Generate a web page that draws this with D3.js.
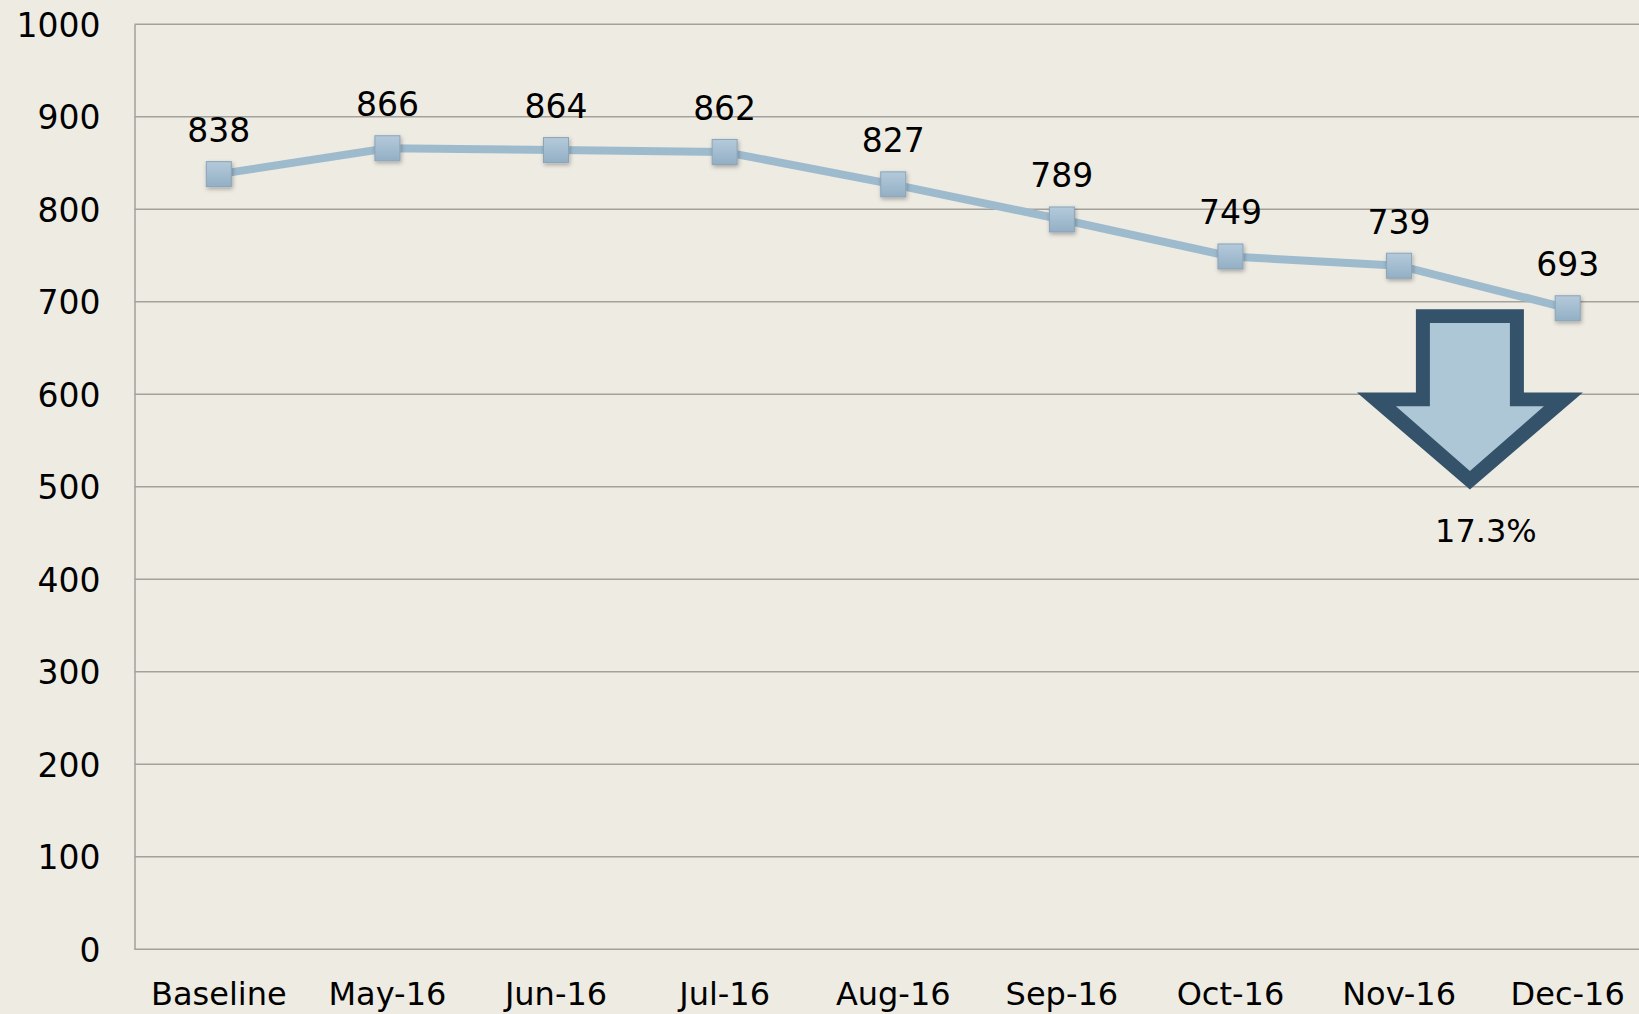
<!DOCTYPE html>
<html lang="en">
<head>
    <meta charset="UTF-8">
    <title>Line chart - D3.JS</title>
    <style>
        body { margin: 0; background: #eeebe3; }
        svg { display: block; }
        text { font-family: "DejaVu Sans", sans-serif; fill: #000; }
    </style>
    <script src="https://d3js.org/d3.v7.min.js"></script>
</head>
<body>
    <div class="graph"></div>
</body>
<script>
    const categories = ['Baseline', 'May-16', 'Jun-16', 'Jul-16', 'Aug-16', 'Sep-16', 'Oct-16', 'Nov-16', 'Dec-16']
    const values = [838, 866, 864, 862, 827, 789, 749, 739, 693]
    const yTicks = [0, 100, 200, 300, 400, 500, 600, 700, 800, 900, 1000]
    const dropLabel = '17.3%'

    const width = 1639, height = 1014
    const margin = { left: 134.5, right: -13, top: 24.3, bottom: 64.7 }

    const svg = d3.select('.graph').append('svg')
        .attr('width', width)
        .attr('height', height)

    svg.append('rect').attr('width', width).attr('height', height).attr('fill', '#eeebe3')

    const defs = svg.append('defs')
    const grad = defs.append('linearGradient').attr('id', 'mk').attr('x1', 0).attr('y1', 0).attr('x2', 0).attr('y2', 1)
    grad.append('stop').attr('offset', '0%').attr('stop-color', '#b4cadb')
    grad.append('stop').attr('offset', '100%').attr('stop-color', '#93afc4')
    const shadow = defs.append('filter').attr('id', 'sh').attr('x', '-50%').attr('y', '-50%').attr('width', '200%').attr('height', '200%')
    shadow.append('feDropShadow').attr('dx', 1).attr('dy', 2).attr('stdDeviation', 2)
        .attr('flood-color', '#000').attr('flood-opacity', 0.3)

    const x = d3.scaleBand()
        .domain(categories)
        .range([margin.left, width - margin.right])
    const y = d3.scaleLinear()
        .domain([0, 1000])
        .range([height - margin.bottom, margin.top])

    // grid lines
    svg.append('g')
        .selectAll('line')
        .data(yTicks)
        .join('line')
        .attr('x1', margin.left).attr('x2', width - margin.right)
        .attr('y1', d => y(d)).attr('y2', d => y(d))
        .attr('stroke', '#a3a19c').attr('stroke-width', 1.5)

    // y axis
    const yAxis = svg.append('g')
        .attr('transform', `translate(${margin.left}, 0)`)
        .call(d3.axisLeft(y).tickValues(yTicks).tickFormat(d3.format('d')).tickSize(0).tickPadding(34))
    yAxis.select('.domain').attr('stroke', '#a3a19c').attr('stroke-width', 1.5)
    yAxis.selectAll('text').style('font-size', '33px').attr('dy', '0.36em')

    // x axis
    const xAxis = svg.append('g')
        .attr('transform', `translate(0, ${y(0)})`)
        .call(d3.axisBottom(x).tickSize(0).tickPadding(33))
    xAxis.select('.domain').remove()
    xAxis.selectAll('text').style('font-size', '32px').attr('dy', '0.71em')

    const cx = (d, i) => x(categories[i]) + x.bandwidth() / 2

    // series line
    svg.append('path')
        .datum(values)
        .attr('fill', 'none')
        .attr('stroke', '#9ebbce')
        .attr('stroke-width', 8)
        .attr('d', d3.line().x(cx).y(d => y(d)))

    // markers
    const ms = 25
    svg.append('g')
        .selectAll('rect')
        .data(values)
        .join('rect')
        .attr('x', (d, i) => cx(d, i) - ms / 2)
        .attr('y', d => y(d) - ms / 2)
        .attr('width', ms).attr('height', ms)
        .attr('fill', 'url(#mk)')
        .attr('stroke', '#8aa4b8').attr('stroke-width', 1)
        .attr('filter', 'url(#sh)')

    // data labels
    svg.append('g')
        .selectAll('text')
        .data(values)
        .join('text')
        .attr('x', cx)
        .attr('y', d => y(d) - 32)
        .attr('text-anchor', 'middle')
        .style('font-size', '33px')
        .text(d => d)

    // drop arrow annotation, between Nov-16 and Dec-16
    const ax = x('Nov-16') + x.bandwidth() * 0.92
    const outer = [
        [ax - 54, y(692)], [ax + 54, y(692)], [ax + 54, y(602)], [ax + 113, y(602)],
        [ax, y(497)], [ax - 113, y(602)], [ax - 54, y(602)]
    ]
    const inner = [
        [ax - 40, y(677)], [ax + 40, y(677)], [ax + 40, y(587)], [ax + 74, y(587)],
        [ax, y(517)], [ax - 74, y(587)], [ax - 40, y(587)]
    ]
    svg.append('polygon').attr('points', outer.join(' ')).attr('fill', '#34536a')
    svg.append('polygon').attr('points', inner.join(' ')).attr('fill', '#aec7d6')
    svg.append('text')
        .attr('x', ax + 16).attr('y', y(440))
        .attr('text-anchor', 'middle')
        .style('font-size', '32px')
        .text(dropLabel)
</script>
</html>
